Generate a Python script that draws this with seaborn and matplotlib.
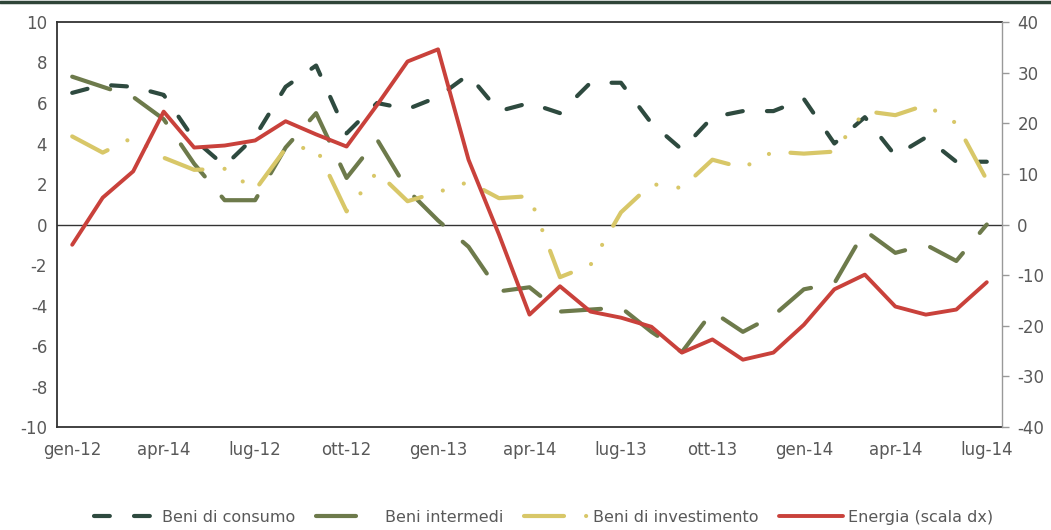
import numpy as np
import pandas as pd
import matplotlib
matplotlib.use("Agg")
import matplotlib.pyplot as plt
from matplotlib.lines import Line2D
import seaborn as sns

# monthly data gen-12 ... lug-14 (31 months)
months = np.arange(31)
tick_pos = np.arange(0, 31, 3)
tick_labels = ["gen-12", "apr-14", "lug-12", "ott-12", "gen-13", "apr-14",
               "lug-13", "ott-13", "gen-14", "apr-14", "lug-14"]

consumo = [6.5, 6.9, 6.8, 6.4, 4.2, 2.9, 4.35, 6.8, 7.85, 4.5, 6.0, 5.7, 6.3, 7.4, 5.6, 6.0,
           5.5, 7.0, 7.0, 5.0, 3.7, 5.3, 5.6, 5.6, 6.2, 4.0, 5.3, 3.4, 4.3, 3.1, 3.1]
intermedi = [7.3, 6.8, 6.3, 5.2, 3.0, 1.2, 1.2, 3.8, 5.5, 2.3, 4.2, 1.7, 0.2, -1.1, -3.3, -3.1,
             -4.3, -4.2, -4.1, -5.3, -6.3, -4.3, -5.3, -4.5, -3.2, -2.9, -0.3, -1.4, -1.0, -1.8, 0.0]
investimento = [4.35, 3.55, 4.3, 3.3, 2.7, 2.75, 1.7, 3.75, 3.8, 0.65, 2.6, 1.15, 1.6, 2.1, 1.3, 1.4,
                -2.6, -2.0, 0.6, 2.0, 1.8, 3.2, 2.8, 3.6, 3.5, 3.6, 5.6, 5.4, 5.9, 5.0, 2.2]
energia = [-4.0, 5.3, 10.5, 22.3, 15.2, 15.6, 16.6, 20.4, 17.8, 15.4, 23.6, 32.2, 34.6, 12.8, -2.0, -17.8,
           -12.2, -17.2, -18.4, -20.2, -25.3, -22.7, -26.7, -25.3, -19.8, -12.8, -9.9, -16.2, -17.8, -16.8, -11.4]

df = pd.DataFrame({"mese": months, "consumo": consumo, "intermedi": intermedi,
                   "investimento": investimento, "energia": energia})

sns.set_style("white")
plt.rcParams["font.family"] = ["DejaVu Sans"]
plt.rcParams["axes.unicode_minus"] = False

txt = "#595959"
c_cons = "#2e4a3f"
c_int = "#6d7a4b"
c_inv = "#d8c768"
c_en = "#c9413b"

fig = plt.figure(figsize=(10.51, 5.30), dpi=100)
ax = fig.add_axes([0.0542, 0.1943, 0.8992, 0.7642])
ax2 = ax.twinx()

lw = 3
sns.lineplot(data=df, x="mese", y="consumo", ax=ax, color=c_cons, linewidth=lw,
             linestyle=(0, (3.8, 5.8)), dash_capstyle="round", label="Beni di consumo", legend=False)
sns.lineplot(data=df, x="mese", y="intermedi", ax=ax, color=c_int, linewidth=lw,
             linestyle=(0, (9.6, 6.3)), dash_capstyle="round", label="Beni intermedi", legend=False)
sns.lineplot(data=df, x="mese", y="investimento", ax=ax, color=c_inv, linewidth=lw,
             linestyle=(0, (9.6, 5.3, 0.01, 5.3, 0.01, 5.3)), dash_capstyle="round",
             label="Beni di investimento", legend=False)
sns.lineplot(data=df, x="mese", y="energia", ax=ax2, color=c_en, linewidth=2.8,
             label="Energia (scala dx)", legend=False)

ax.axhline(0, color="#333333", lw=1, zorder=0)

ax.set_xlim(-0.5, 30.5)
ax.set_ylim(-10, 10)
ax.set_yticks(np.arange(-10, 11, 2))
ax2.set_ylim(-40, 40)
ax2.set_yticks(np.arange(-40, 41, 10))
ax.set_xticks(tick_pos)
ax.set_xticklabels(tick_labels)
ax.set_xlabel("")
ax.set_ylabel("")
ax2.set_ylabel("")

ax.tick_params(axis="both", length=0, labelsize=12, labelcolor=txt)
ax.tick_params(axis="x", pad=10)
ax.tick_params(axis="y", pad=7)
ax2.tick_params(axis="y", length=5, width=1, color="#999999", direction="out",
                labelsize=12, labelcolor=txt, pad=6)

for name in ["left", "top", "bottom"]:
    ax.spines[name].set_color("#333333")
    ax.spines[name].set_linewidth(1.3)
    ax2.spines[name].set_visible(False)
ax.spines["right"].set_visible(False)
ax2.spines["right"].set_color("#999999")
ax2.spines["right"].set_linewidth(1)

# top border of the page
fig.add_artist(Line2D([0, 1], [0.997, 0.997], transform=fig.transFigure, color="#2f4538", lw=2.5))

handles = ax.get_lines()[:3] + ax2.get_lines()[:1]
labels = ["Beni di consumo", "Beni intermedi", "Beni di investimento", "Energia (scala dx)"]
leg = fig.legend(handles, labels, loc="center", bbox_to_anchor=(0.517, 0.024), ncol=4,
                 frameon=False, fontsize=11.5, handlelength=4, handletextpad=0.3,
                 columnspacing=1.3, labelcolor=txt)

fig.savefig("out.png", dpi=100)
